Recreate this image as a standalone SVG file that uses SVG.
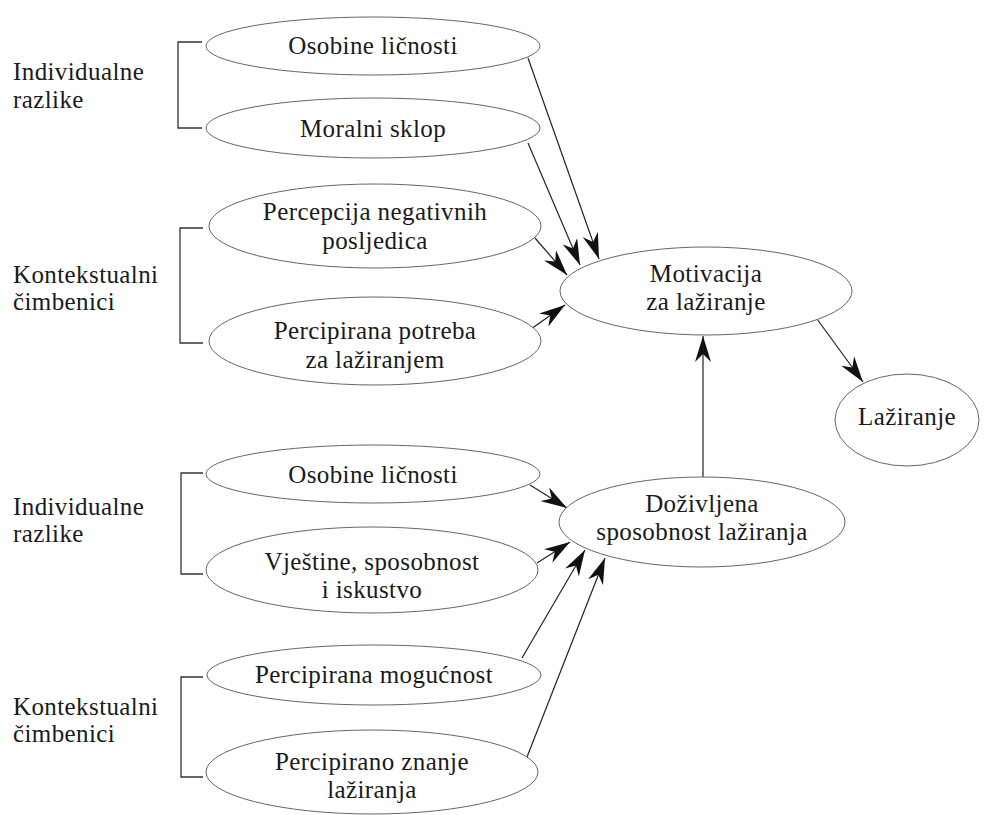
<svg xmlns="http://www.w3.org/2000/svg" width="985" height="815" viewBox="0 0 985 815">
<defs>
<style>
text{font-family:"Liberation Serif","Times New Roman",serif;font-size:25px;fill:#1a1a1a;letter-spacing:0.4px}
.n text{text-anchor:middle}
ellipse{fill:#fff;stroke:#666;stroke-width:1}
.br{fill:none;stroke:#333;stroke-width:1.3}
.c line{stroke:#222;stroke-width:1.2;marker-end:url(#ah)}
</style>
<marker id="ah" markerUnits="userSpaceOnUse" viewBox="0 0 26 16" refX="26" refY="8" markerWidth="26" markerHeight="16" orient="auto">
<path d="M0,0 L26,8 L0,16 L8,8 Z" fill="#111"/>
</marker>
</defs>
<rect width="985" height="815" fill="#fff"/>

<g id="labels">
<text x="13" y="80">Individualne</text>
<text x="13" y="108">razlike</text>
<text x="13" y="283">Kontekstualni</text>
<text x="13" y="310">čimbenici</text>
<text x="13" y="515">Individualne</text>
<text x="13" y="542">razlike</text>
<text x="13" y="715">Kontekstualni</text>
<text x="13" y="742">čimbenici</text>
</g>

<g id="brackets">
<path class="br" d="M202,42 H178 V128 H202"/>
<path class="br" d="M203,228 H180 V343 H203"/>
<path class="br" d="M203,473 H181 V574 H203"/>
<path class="br" d="M203,677 H181 V777 H203"/>
</g>

<g class="c" id="connectors">
<line x1="528" y1="58" x2="599" y2="259"/>
<line x1="528" y1="143" x2="580" y2="265"/>
<line x1="535" y1="238" x2="567" y2="275"/>
<line x1="531" y1="329" x2="565" y2="305"/>
<line x1="817" y1="319" x2="863" y2="382"/>
<line x1="703" y1="478" x2="703" y2="336"/>
<line x1="530" y1="485" x2="567" y2="508"/>
<line x1="537" y1="563" x2="570" y2="542"/>
<line x1="522" y1="658" x2="585" y2="550"/>
<line x1="527" y1="757" x2="605" y2="558"/>
</g>

<g class="n" id="n1"><ellipse cx="373" cy="46" rx="167" ry="29"/><text x="373" y="54">Osobine ličnosti</text></g>
<g class="n" id="n2"><ellipse cx="373" cy="128" rx="167" ry="30"/><text x="373" y="137">Moralni sklop</text></g>
<g class="n" id="n3"><ellipse cx="375" cy="226" rx="166" ry="42"/><text x="375" y="220">Percepcija negativnih</text><text x="375" y="249">posljedica</text></g>
<g class="n" id="n4"><ellipse cx="375" cy="341" rx="166" ry="44"/><text x="375" y="339">Percipirana potreba</text><text x="375" y="368">za lažiranjem</text></g>
<g class="n" id="n5"><ellipse cx="706" cy="291" rx="146" ry="44"/><text x="706" y="282">Motivacija</text><text x="706" y="310">za lažiranje</text></g>
<g class="n" id="n6"><ellipse cx="907" cy="420" rx="72" ry="46"/><text x="907" y="425">Lažiranje</text></g>
<g class="n" id="n7"><ellipse cx="373" cy="474" rx="167" ry="29"/><text x="373" y="483">Osobine ličnosti</text></g>
<g class="n" id="n8"><ellipse cx="372" cy="570" rx="166" ry="43"/><text x="372" y="570">Vještine, sposobnost</text><text x="372" y="598">i iskustvo</text></g>
<g class="n" id="n9"><ellipse cx="702" cy="522" rx="143" ry="45"/><text x="702" y="512">Doživljena</text><text x="702" y="540">sposobnost lažiranja</text></g>
<g class="n" id="n10"><ellipse cx="374" cy="675" rx="167" ry="30"/><text x="374" y="683">Percipirana mogućnost</text></g>
<g class="n" id="n11"><ellipse cx="372" cy="772" rx="166" ry="42"/><text x="372" y="770">Percipirano znanje</text><text x="372" y="798">lažiranja</text></g>
</svg>
